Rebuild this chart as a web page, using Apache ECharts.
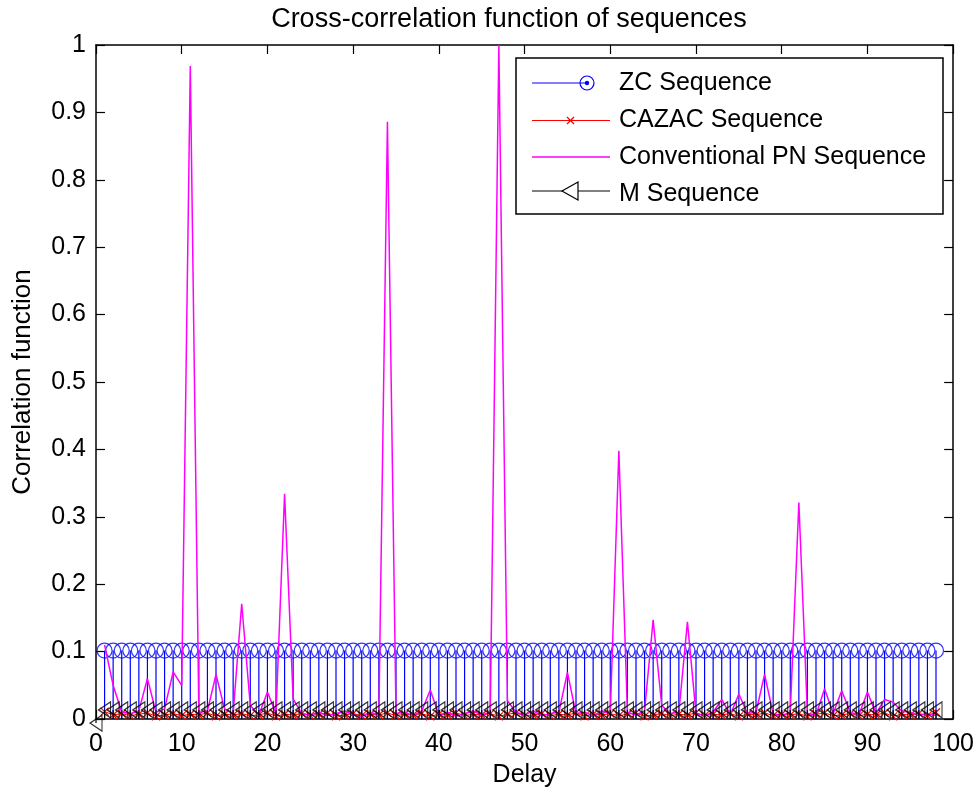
<!DOCTYPE html>
<html>
<head>
<meta charset="utf-8">
<script src="https://cdn.jsdelivr.net/npm/echarts@6/dist/echarts.min.js"></script>
<style>html,body{margin:0;padding:0;background:#fff;}#c{width:977px;height:794px;}</style>
</head>
<body>
<div id="c"></div>
<script>
// ---- data ----
const delays = [1,2,3,4,5,6,7,8,9,10,11,12,13,14,15,16,17,18,19,20,21,22,23,24,25,26,27,28,29,30,31,32,33,34,35,36,37,38,39,40,41,42,43,44,45,46,47,48,49,50,51,52,53,54,55,56,57,58,59,60,61,62,63,64,65,66,67,68,69,70,71,72,73,74,75,76,77,78,79,80,81,82,83,84,85,86,87,88,89,90,91,92,93,94,95,96,97,98];
const mDelays = [0,1,2,3,4,5,6,7,8,9,10,11,12,13,14,15,16,17,18,19,20,21,22,23,24,25,26,27,28,29,30,31,32,33,34,35,36,37,38,39,40,41,42,43,44,45,46,47,48,49,50,51,52,53,54,55,56,57,58,59,60,61,62,63,64,65,66,67,68,69,70,71,72,73,74,75,76,77,78,79,80,81,82,83,84,85,86,87,88,89,90,91,92,93,94,95,96,97,98];
const zcValues = [0.1015,0.1015,0.1015,0.1015,0.1015,0.1015,0.1015,0.1015,0.1015,0.1015,0.1015,0.1015,0.1015,0.1015,0.1015,0.1015,0.1015,0.1015,0.1015,0.1015,0.1015,0.1015,0.1015,0.1015,0.1015,0.1015,0.1015,0.1015,0.1015,0.1015,0.1015,0.1015,0.1015,0.1015,0.1015,0.1015,0.1015,0.1015,0.1015,0.1015,0.1015,0.1015,0.1015,0.1015,0.1015,0.1015,0.1015,0.1015,0.1015,0.1015,0.1015,0.1015,0.1015,0.1015,0.1015,0.1015,0.1015,0.1015,0.1015,0.1015,0.1015,0.1015,0.1015,0.1015,0.1015,0.1015,0.1015,0.1015,0.1015,0.1015,0.1015,0.1015,0.1015,0.1015,0.1015,0.1015,0.1015,0.1015,0.1015,0.1015,0.1015,0.1015,0.1015,0.1015,0.1015,0.1015,0.1015,0.1015,0.1015,0.1015,0.1015,0.1015,0.1015,0.1015,0.1015,0.1015,0.1015,0.1015];
const cazacValues = [0.011,0.006,0.008,0.005,0.007,0.009,0.004,0.006,0.008,0.005,0.007,0.006,0.009,0.004,0.007,0.006,0.008,0.005,0.006,0.009,0.004,0.007,0.006,0.008,0.005,0.007,0.009,0.004,0.006,0.008,0.005,0.007,0.006,0.009,0.005,0.007,0.006,0.008,0.004,0.007,0.006,0.009,0.005,0.007,0.006,0.008,0.004,0.007,0.009,0.005,0.006,0.008,0.005,0.007,0.006,0.009,0.004,0.007,0.006,0.008,0.005,0.007,0.009,0.004,0.006,0.008,0.005,0.007,0.006,0.009,0.005,0.007,0.006,0.008,0.004,0.007,0.006,0.009,0.005,0.007,0.006,0.008,0.004,0.007,0.009,0.005,0.006,0.008,0.005,0.007,0.006,0.009,0.004,0.007,0.006,0.008,0.005,0.010];
const pnValues = [0.11,0.05,0.01,0.008,0.012,0.06,0.01,0.015,0.07,0.05,0.969,0.01,0.012,0.066,0.015,0.008,0.171,0.02,0.006,0.04,0.008,0.334,0.03,0.008,0.006,0.01,0.005,0.008,0.012,0.006,0.004,0.01,0.006,0.886,0.008,0.01,0.005,0.012,0.043,0.006,0.01,0.004,0.008,0.012,0.006,0.01,1.0,0.027,0.01,0.006,0.012,0.005,0.008,0.01,0.069,0.008,0.01,0.005,0.012,0.008,0.398,0.01,0.006,0.012,0.147,0.02,0.008,0.01,0.144,0.008,0.005,0.01,0.029,0.006,0.037,0.008,0.01,0.066,0.008,0.005,0.01,0.321,0.008,0.006,0.045,0.008,0.042,0.01,0.006,0.04,0.008,0.029,0.025,0.012,0.01,0.006,0.008,0.005];
const mValues = [-0.006,0.0134,0.0134,0.0134,0.0134,0.0134,0.0134,0.0134,0.0134,0.0134,0.0134,0.0134,0.0134,0.0134,0.0134,0.0134,0.0134,0.0134,0.0134,0.0134,0.0134,0.0134,0.0134,0.0134,0.0134,0.0134,0.0134,0.0134,0.0134,0.0134,0.0134,0.0134,0.0134,0.0134,0.0134,0.0134,0.0134,0.0134,0.0134,0.0134,0.0134,0.0134,0.0134,0.0134,0.0134,0.0134,0.0134,0.0134,0.0134,0.0134,0.0134,0.0134,0.0134,0.0134,0.0134,0.0134,0.0134,0.0134,0.0134,0.0134,0.0134,0.0134,0.0134,0.0134,0.0134,0.0134,0.0134,0.0134,0.0134,0.0134,0.0134,0.0134,0.0134,0.0134,0.0134,0.0134,0.0134,0.0134,0.0134,0.0134,0.0134,0.0134,0.0134,0.0134,0.0134,0.0134,0.0134,0.0134,0.0134,0.0134,0.0134,0.0134,0.0134,0.0134,0.0134,0.0134,0.0134,0.0134,0.0134];
const seriesNames = ['ZC Sequence','CAZAC Sequence','Conventional PN Sequence','M Sequence'];
const titleText = 'Cross-correlation function of sequences';
const xName = 'Delay';
const yName = 'Correlation function';

// ---- chart ----
const FONT = '"Liberation Sans", Arial, Helvetica, sans-serif';
const pairs = (xs, ys) => xs.map((x, i) => [x, ys[i]]);
const zcData = pairs(delays, zcValues);
const cazacData = pairs(delays, cazacValues);
const pnData = pairs(delays, pnValues);
const mData = pairs(mDelays, mValues);

function stemRenderer(color) {
  return function (params, api) {
    const x = api.value(0), y = api.value(1);
    const p0 = api.coord([x, 0]);
    const p1 = api.coord([x, y]);
    return { type: 'line', shape: { x1: p0[0], y1: p0[1], x2: p1[0], y2: p1[1] },
      style: { stroke: color, lineWidth: 1.2 } };
  };
}

const axisLineStyle = { color: '#000', width: 1.5 };
const tickStyle = { show: true, inside: true, length: 9, lineStyle: { color: '#000', width: 1.2 } };
const labelStyle = { color: '#000', fontSize: 25, fontFamily: FONT };
const X_MARK = 'path://M0,0L10,10M10,0L0,10';
const LEFT_TRI = 'path://M0,5L10,0L10,10Z';

const chart = echarts.init(document.getElementById('c'), null, { renderer: 'canvas' });
chart.setOption({
  animation: false,
  backgroundColor: '#fff',
  title: { text: titleText, left: 504, top: 1, textAlign: 'center',
    textStyle: { color: '#000', fontSize: 27, fontWeight: 'normal', fontFamily: FONT } },
  grid: { left: 96, right: 21, top: 45, bottom: 75 },
  xAxis: [
    { type: 'value', min: 0, max: 100, interval: 10, position: 'bottom',
      name: xName, nameLocation: 'middle', nameGap: 44,
      nameTextStyle: { color: '#000', fontSize: 25, fontFamily: FONT },
      axisLine: { show: true, onZero: false, lineStyle: axisLineStyle },
      axisTick: tickStyle,
      axisLabel: Object.assign({ margin: 13 }, labelStyle),
      splitLine: { show: false } },
    { type: 'value', min: 0, max: 100, interval: 10, position: 'top',
      axisLine: { show: true, onZero: false, lineStyle: axisLineStyle },
      axisTick: tickStyle,
      axisLabel: { show: false }, splitLine: { show: false } }
  ],
  yAxis: [
    { type: 'value', min: 0, max: 1, interval: 0.1, position: 'left',
      name: yName, nameLocation: 'middle', nameGap: 60, nameRotate: 90,
      nameTextStyle: { color: '#000', fontSize: 26, fontFamily: FONT },
      axisLine: { show: true, onZero: false, lineStyle: axisLineStyle },
      axisTick: tickStyle,
      axisLabel: Object.assign({ margin: 10,
        formatter: v => (Math.abs(v) < 1e-9 ? '0' : Math.abs(v - 1) < 1e-9 ? '1' : v.toFixed(1)) }, labelStyle),
      splitLine: { show: false } },
    { type: 'value', min: 0, max: 1, interval: 0.1, position: 'right',
      axisLine: { show: true, onZero: false, lineStyle: axisLineStyle },
      axisTick: tickStyle,
      axisLabel: { show: false }, splitLine: { show: false } }
  ],
  series: [
    { name: seriesNames[0] + ' stems', type: 'custom', renderItem: stemRenderer('#0000ff'),
      data: zcData, encode: { x: 0, y: 1 }, clip: false, z: 2 },
    { name: seriesNames[0], type: 'scatter', data: zcData, symbol: 'circle', symbolSize: 15,
      itemStyle: { color: 'rgba(0,0,0,0)', borderColor: '#0000ff', borderWidth: 1.2 }, z: 2 },
    { name: seriesNames[1], type: 'line', data: cazacData, symbol: X_MARK, symbolSize: 8,
      showSymbol: true, showAllSymbol: true,
      lineStyle: { color: '#ff0000', width: 1 },
      itemStyle: { color: 'rgba(0,0,0,0)', borderColor: '#ff0000', borderWidth: 1.2 }, z: 3 },
    { name: seriesNames[2], type: 'line', data: pnData, symbol: 'none',
      lineStyle: { color: '#ff00ff', width: 1.5 }, z: 4 },
    { name: seriesNames[3] + ' stems', type: 'custom', renderItem: stemRenderer('#000000'),
      data: mData, encode: { x: 0, y: 1 }, clip: false, z: 5 },
    { name: seriesNames[3], type: 'scatter', data: mData, symbol: LEFT_TRI, symbolSize: [12, 16],
      clip: false,
      itemStyle: { color: 'rgba(0,0,0,0)', borderColor: '#000000', borderWidth: 1.2 }, z: 5 }
  ],
  graphic: [
    { type: 'rect', shape: { x: 516, y: 58, width: 427, height: 156 }, z: 50,
      style: { fill: '#fff', stroke: '#000', lineWidth: 1.5 } },
    // ZC
    { type: 'line', shape: { x1: 532, y1: 83, x2: 587, y2: 83 }, z: 51, style: { stroke: '#0000ff', lineWidth: 1.2 } },
    { type: 'circle', shape: { cx: 587, cy: 83, r: 7 }, z: 51, style: { fill: 'none', stroke: '#0000ff', lineWidth: 1.2 } },
    { type: 'circle', shape: { cx: 587, cy: 83, r: 2.2 }, z: 51, style: { fill: '#0000ff' } },
    { type: 'text', x: 619, y: 83, z: 51, style: { text: seriesNames[0], fill: '#000', font: '25px ' + FONT, verticalAlign: 'middle' } },
    // CAZAC
    { type: 'line', shape: { x1: 532, y1: 120.5, x2: 610, y2: 120.5 }, z: 51, style: { stroke: '#ff0000', lineWidth: 1 } },
    { type: 'polyline', shape: { points: [[567, 117], [574, 124]] }, z: 51, style: { stroke: '#ff0000', lineWidth: 1.2 } },
    { type: 'polyline', shape: { points: [[574, 117], [567, 124]] }, z: 51, style: { stroke: '#ff0000', lineWidth: 1.2 } },
    { type: 'text', x: 619, y: 120.5, z: 51, style: { text: seriesNames[1], fill: '#000', font: '25px ' + FONT, verticalAlign: 'middle' } },
    // PN
    { type: 'line', shape: { x1: 532, y1: 157, x2: 610, y2: 157 }, z: 51, style: { stroke: '#ff00ff', lineWidth: 1.5 } },
    { type: 'text', x: 619, y: 157, z: 51, style: { text: seriesNames[2], fill: '#000', font: '25px ' + FONT, verticalAlign: 'middle' } },
    // M
    { type: 'line', shape: { x1: 532, y1: 191, x2: 610, y2: 191 }, z: 51, style: { stroke: '#000', lineWidth: 1 } },
    { type: 'polygon', shape: { points: [[562, 191], [578, 182], [578, 200]] }, z: 51, style: { fill: '#fff', stroke: '#000', lineWidth: 1.2 } },
    { type: 'text', x: 619, y: 194, z: 51, style: { text: seriesNames[3], fill: '#000', font: '25px ' + FONT, verticalAlign: 'middle' } }
  ]
});
</script>
</body>
</html>
